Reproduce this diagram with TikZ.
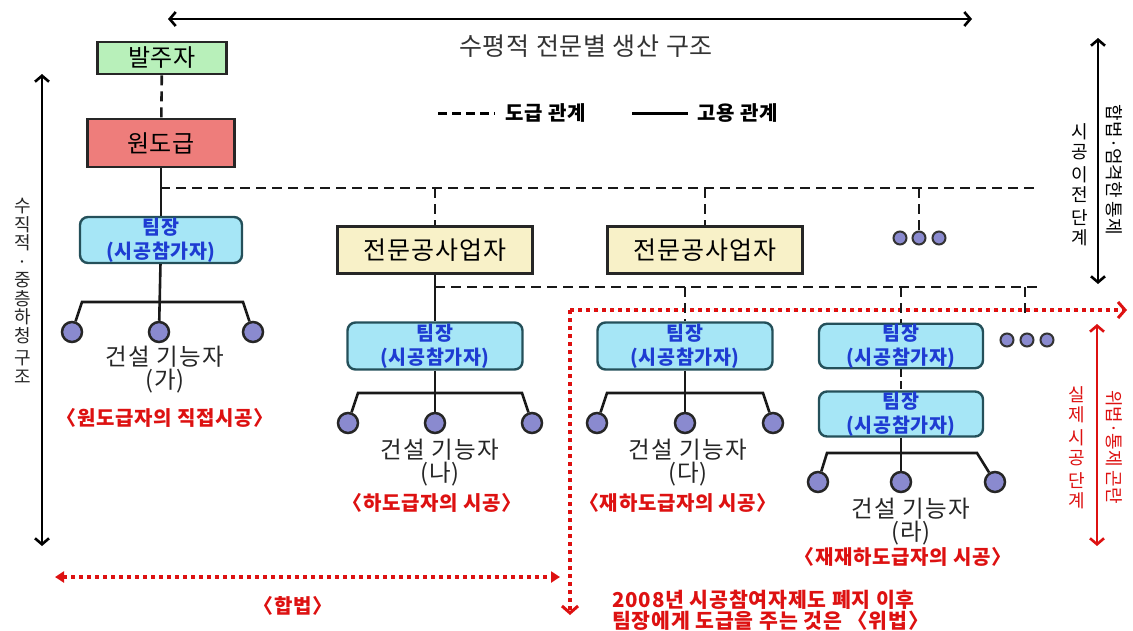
\documentclass[tikz,border=0pt]{standalone}
\usepackage{fontspec}
\setmainfont{Noto Sans CJK KR}
\usetikzlibrary{arrows.meta}
\definecolor{cgreen}{HTML}{B8F0BA}
\definecolor{cred}{HTML}{EE7D7B}
\definecolor{cyellow}{HTML}{F8F1C8}
\definecolor{ccyan}{HTML}{A6E6F6}
\definecolor{cteal}{HTML}{24505A}
\definecolor{cblue}{HTML}{1E3CD2}
\definecolor{cball}{HTML}{8A8ACF}
\definecolor{cdred}{HTML}{DD1111}
\definecolor{cgray}{HTML}{333333}
\newcommand{\fsz}[1]{\fontsize{#1}{#1}\selectfont}
\newcommand{\lsp}[1]{\addfontfeature{LetterSpace=#1}}
\begin{document}
\begin{tikzpicture}[x=1pt,y=-1pt,
  conn/.style={line width=2.6pt, black!90},
  dsh/.style={conn, dash pattern=on 10pt off 6pt},
  reddot/.style={line width=4pt, cdred, dash pattern=on 4pt off 4pt},
  boxs/.style={rectangle, draw=black!85, line width=2.6pt, inner sep=0pt},
  tl/.style={rectangle, rounded corners=8pt, fill=ccyan, draw=cteal, line width=2.4pt,
     text=cblue, font=\bfseries\fontsize{19.5}{24}\selectfont\lsp{3}, align=center, inner sep=0pt},
  worker/.style={circle, minimum size=20pt, inner sep=0pt, fill=cball, draw=black!85, line width=2.5pt},
  edot/.style={circle, minimum size=13pt, inner sep=0pt, fill=cball, draw=black!80, line width=2pt},
  lbl/.style={font=\fontsize{23.5}{23}\selectfont\lsp{5}, text=black!85, inner sep=0pt, align=center},
  rlbl/.style={font=\bfseries\fsz{20}\lsp{3}, text=cdred, inner sep=0pt},
  barb/.style={line width=2.6pt, {Straight Barb[length=6pt,width=14pt]}-{Straight Barb[length=6pt,width=14pt]}}
]
\useasboundingbox (0,0) rectangle (1133,630);

% ---- main nodes
\node[boxs, fill=cgreen, minimum width=129pt, minimum height=32pt, font=\fsz{24}\lsp{3}] (client) at (162,58) {발주자};
\node[boxs, fill=cred, minimum width=147pt, minimum height=48pt, font=\fsz{24}\lsp{3}] (orig) at (161,143) {원도급};
\node[tl, minimum width=162pt, minimum height=46pt] (tl1) at (161,240) {팀장\\(시공참가자)};
\node[boxs, fill=cyellow, minimum width=195pt, minimum height=47pt, font=\fsz{25}\lsp{4}] (sub1) at (435,250) {전문공사업자};
\node[boxs, fill=cyellow, minimum width=195pt, minimum height=47pt, font=\fsz{25}\lsp{4}] (sub2) at (705,250) {전문공사업자};
\node[edot] (e1a) at (900,238) {};
\node[edot] (e1b) at (919,238) {};
\node[edot] (e1c) at (939,238) {};
\node[tl, minimum width=175pt, minimum height=47pt] (tl2) at (435,346) {팀장\\(시공참가자)};
\node[tl, minimum width=175pt, minimum height=47pt] (tl3) at (685,346) {팀장\\(시공참가자)};
\node[tl, minimum width=164pt, minimum height=44pt] (tl4) at (901,346) {팀장\\(시공참가자)};
\node[tl, minimum width=164pt, minimum height=45pt] (tl5) at (901,414) {팀장\\(시공참가자)};
\node[edot] (e2a) at (1007,340) {};
\node[edot] (e2b) at (1027,340) {};
\node[edot] (e2c) at (1047,340) {};

% ---- workers
\node[worker] (w1a) at (72,332) {};
\node[worker] (w1b) at (159,332) {};
\node[worker] (w1c) at (253,332) {};
\node[worker] (w2a) at (348,423) {};
\node[worker] (w2b) at (435,423) {};
\node[worker] (w2c) at (532,423) {};
\node[worker] (w3a) at (597,423) {};
\node[worker] (w3b) at (685,423) {};
\node[worker] (w3c) at (773,423) {};
\node[worker] (w4a) at (818,482) {};
\node[worker] (w4b) at (901,482) {};
\node[worker] (w4c) at (995,482) {};

% ---- branch corners
\coordinate (b1l) at (82,302);  \coordinate (b1r) at (243,302);
\coordinate (b2l) at (358,393); \coordinate (b2r) at (522,393);
\coordinate (b3l) at (607,393); \coordinate (b3r) at (763,393);
\coordinate (b4l) at (827,453); \coordinate (b4r) at (977,453);

% ---- red dotted framework
\coordinate (rc) at (570,310);
\coordinate (rr) at (1127,310);
\coordinate (rb) at (570,615);
\draw[reddot, -{Straight Barb[length=7pt,width=16pt,line width=3pt]}] (rc) -- (rr);
\draw[reddot, -{Straight Barb[length=7pt,width=16pt,line width=3pt]}] (rc) -- (rb);
\coordinate (hl) at (55,577);
\coordinate (hr) at (560,577);
\draw[reddot, {Triangle[length=9pt,width=11pt]}-{Triangle[length=9pt,width=11pt]}] (hl) -- (hr);

% ---- connectors
\draw[dsh] (client) -- (orig);
\draw[conn] (orig) -- (tl1);
\coordinate (j1) at (160,188);
\coordinate (j1e) at (1035,188);
\draw[dsh] (j1) -- (j1e);
\draw[dsh] (sub1.north |- j1) -- (sub1.north);
\draw[dsh] (sub2.north |- j1) -- (sub2.north);
\draw[dsh] (e1b |- j1) -- (e1b);

\draw[conn] (sub1) -- (tl2);
\coordinate (j2) at (435,287);
\coordinate (j2e) at (1038,287);
\draw[dsh] (j2) -- (j2e);
\draw[dsh] (tl3.north |- j2) -- (tl3.north);
\draw[dsh] (tl4.north |- j2) -- (tl4.north);
\coordinate (j2x) at (1025,287);
\coordinate (j2y) at (1025,318);
\draw[dsh] (j2x) -- (j2y);
\draw[conn, dash pattern=on 8pt off 4pt] (tl4) -- (tl5);

\draw[conn] (tl1) -- (w1b);
\draw[conn] (w1a) -- (b1l) -- (b1r) -- (w1c);
\draw[conn] (tl2) -- (w2b);
\draw[conn] (w2a) -- (b2l) -- (b2r) -- (w2c);
\draw[conn] (tl3) -- (w3b);
\draw[conn] (w3a) -- (b3l) -- (b3r) -- (w3c);
\draw[conn] (tl5) -- (w4b);
\draw[conn] (w4a) -- (b4l) -- (b4r) -- (w4c);

% ---- labels
\node[lbl] (l1) at (165,370) {건설 기능자\\(가)};
\node[rlbl] (r1) at (165,418) {〈원도급자의 직접시공〉};
\node[lbl] (l2) at (440,463) {건설 기능자\\(나)};
\node[rlbl] (r2) at (432,503) {〈하도급자의 시공〉};
\node[lbl] (l3) at (688,463) {건설 기능자\\(다)};
\node[rlbl] (r3) at (678,503) {〈재하도급자의 시공〉};
\node[lbl] (l4) at (911,522) {건설 기능자\\(라)};
\node[rlbl] (r4) at (903,557) {〈재재하도급자의 시공〉};

% ---- top axis
\coordinate (ta) at (168,19);
\coordinate (tb) at (972,19);
\draw[barb] (ta) -- (tb);
\node[font=\fsz{25}\lsp{3}, text=cgray] (ttl) at (586,46) {수평적 전문별 생산 구조};

% ---- legend
\coordinate (lg1) at (438,113); \coordinate (lg2) at (495,113);
\draw[line width=3pt, dash pattern=on 9pt off 5pt] (lg1) -- (lg2);
\node[font=\bfseries\fsz{20}\lsp{5}, anchor=west, inner sep=0pt] (lgt1) at (505,113) {도급 관계};
\coordinate (lg3) at (632,113); \coordinate (lg4) at (688,113);
\draw[line width=3pt] (lg3) -- (lg4);
\node[font=\bfseries\fsz{20}\lsp{5}, anchor=west, inner sep=0pt] (lgt2) at (697,113) {고용 관계};

% ---- left axis
\coordinate (la) at (42,74);
\coordinate (lb) at (42,546);
\draw[barb] (la) -- (lb);
\node[font=\fontsize{18}{18.5}\selectfont, text=black!85, align=center, inner sep=0pt] (ltxt) at (23,291)
  {수\\직\\적\\·\\중\\층\\하\\청\\[4pt]구\\조};

% ---- right axes
\coordinate (ra) at (1098,38);
\coordinate (rbb) at (1098,284);
\draw[barb] (ra) -- (rbb);
\node[font=\fontsize{18}{20}\selectfont, align=center, inner sep=0pt] (rt1) at (1080,185)
  {시\\공\\[3pt]이\\전\\[3pt]단\\계};
\node[font=\fsz{18}, rotate=-90, inner sep=0pt] (rt2) at (1114,170) {합법·엄격한 통제};

\coordinate (rra) at (1097,324);
\coordinate (rrb) at (1097,546);
\draw[line width=2.6pt, cdred, {Straight Barb[length=6pt,width=14pt]}-{Straight Barb[length=6pt,width=14pt]}] (rra) -- (rrb);
\node[font=\fontsize{18}{20}\selectfont, text=cdred, align=center, inner sep=0pt] (rt3) at (1077,448)
  {실\\제\\[3pt]시\\공\\[3pt]단\\계};
\node[font=\fsz{18}, rotate=-90, text=cdred, inner sep=0pt] (rt4) at (1114,447) {위법·통제 곤란};

% ---- bottom texts
\node[rlbl] (rhb) at (293,606) {〈합법〉};
\node[rlbl, font=\bfseries\fsz{20.5}\lsp{4}, anchor=west] (note1) at (612,600) {2008년 시공참여자제도 폐지 이후};
\node[rlbl, font=\bfseries\fsz{20.5}\lsp{4}, anchor=west] (note2) at (612,621) {팀장에게 도급을 주는 것은 〈위법〉};
\end{tikzpicture}
\end{document}
